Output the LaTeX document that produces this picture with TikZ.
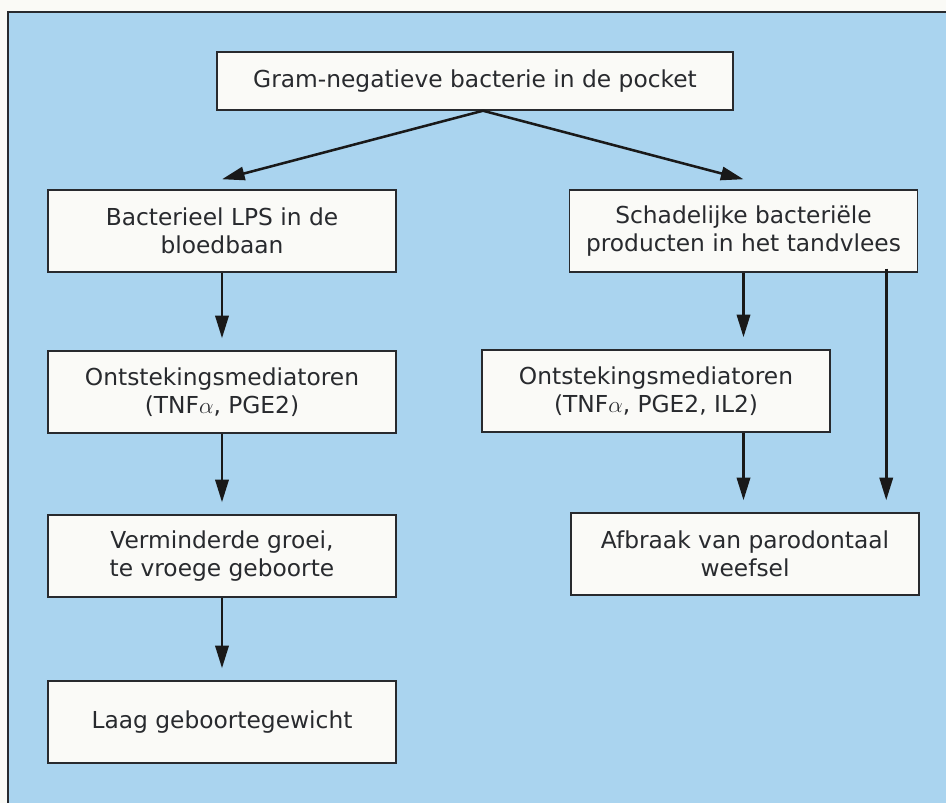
\documentclass[tikz,border=0pt]{standalone}
\usepackage{fontspec}
\setmainfont{DejaVu Sans}
\usetikzlibrary{arrows.meta}
\definecolor{paper}{RGB}{250,250,246}
\definecolor{panel}{RGB}{170,212,239}
\definecolor{boxfill}{RGB}{250,250,247}
\definecolor{ink}{RGB}{40,42,46}
\begin{document}
\begin{tikzpicture}[
x=0.75pt,y=-0.75pt,
box/.style={draw={ink},fill={boxfill},line width=1.1pt,minimum width=261pt,minimum height=61.5pt,
  align=center,text={ink},font=\fontsize{17.5}{21}\selectfont},
arr/.style={-{Triangle[length=17pt,width=10pt]},draw={black!90},line width=1.9pt,shorten >=9pt},
]
\useasboundingbox (0,0) rectangle (946,803);
\path[fill=paper] (0,0) rectangle (946,803);
\path[fill=panel] (8,12) rectangle (946,803);
\draw[ink,line width=1.1pt] (946,12) -- (8,12) -- (8,803);
% boxes
\node[box,minimum width=387pt,minimum height=43.5pt] (top) at (475,81) {Gram-negatieve bacterie in de pocket};
\node[box] (lps) at (222,231) {Bacterieel LPS in de\\bloedbaan};
\node[box] (lmed) at (222,392) {Ontstekingsmediatoren\\(TNF$\alpha$, PGE2)};
\node[box] (groei) at (222,556) {Verminderde groei,\\te vroege geboorte};
\node[box] (laag) at (222,722) {Laag geboortegewicht};
\node[box] (schade) at (743.5,231) {Schadelijke bacteriële\\producten in het tandvlees};
\node[box] (rmed) at (656,391) {Ontstekingsmediatoren\\(TNF$\alpha$, PGE2, IL2)};
\node[box] (afbraak) at (745,554) {Afbraak van parodontaal\\weefsel};
% arrows
\draw[arr,shorten >=0pt] ([xshift=6pt]top.south) -- ([yshift=7.5pt]lps.north);
\draw[arr,shorten >=0pt] ([xshift=6pt]top.south) -- ([yshift=7.5pt]schade.north);
\draw[arr] (lps) -- (lmed);
\draw[arr] (lmed) -- (groei);
\draw[arr] (groei) -- (laag);
\draw[arr] (schade.south) -- (schade.south |- rmed.north);
\draw[arr] (schade.south |- rmed.south) -- (schade.south |- afbraak.north);
\draw[arr] ([xshift=-24pt,yshift=3pt]schade.south east) -- ([xshift=-24pt]schade.south east |- afbraak.north);
\end{tikzpicture}
\end{document}
